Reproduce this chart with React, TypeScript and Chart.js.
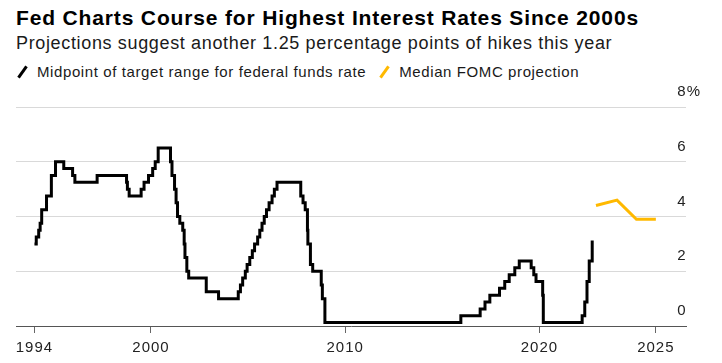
import React, { useEffect, useRef } from "react";
import { Chart, registerables } from "chart.js";

Chart.register(...registerables);

// Midpoint of the federal funds target range, at each change date
const FFR_DATES = [
  "1994-01-01", "1994-02-04", "1994-03-22", "1994-04-18", "1994-05-17", "1994-08-16", "1994-11-15",
  "1995-02-01", "1995-07-06", "1995-12-19", "1996-01-31", "1997-03-25", "1998-09-29", "1998-10-15",
  "1998-11-17", "1999-06-30", "1999-08-24", "1999-11-16", "2000-02-02", "2000-03-21", "2000-05-16",
  "2001-01-03", "2001-01-31", "2001-03-20", "2001-04-18", "2001-05-15", "2001-06-27", "2001-08-21",
  "2001-09-17", "2001-10-02", "2001-11-06", "2001-12-11", "2002-11-06", "2003-06-25", "2004-06-30",
  "2004-08-10", "2004-09-21", "2004-11-10", "2004-12-14", "2005-02-02", "2005-03-22", "2005-05-03",
  "2005-06-30", "2005-08-09", "2005-09-20", "2005-11-01", "2005-12-13", "2006-01-31", "2006-03-28",
  "2006-05-10", "2006-06-29", "2007-09-18", "2007-10-31", "2007-12-11", "2008-01-22", "2008-01-30",
  "2008-03-18", "2008-04-30", "2008-10-08", "2008-10-29", "2008-12-16", "2015-12-16", "2016-12-14",
  "2017-03-15", "2017-06-14", "2017-12-13", "2018-03-21", "2018-06-13", "2018-09-26", "2018-12-19",
  "2019-07-31", "2019-09-18", "2019-10-30", "2020-03-03", "2020-03-15", "2022-03-16", "2022-05-04",
  "2022-06-15", "2022-07-27", "2022-09-21",
];
const FFR_MIDPOINT = [
  3.0, 3.25, 3.5, 3.75, 4.25, 4.75, 5.5,
  6.0, 5.75, 5.5, 5.25, 5.5, 5.25, 5.0,
  4.75, 5.0, 5.25, 5.5, 5.75, 6.0, 6.5,
  6.0, 5.5, 5.0, 4.5, 4.0, 3.75, 3.5,
  3.0, 2.5, 2.0, 1.75, 1.25, 1.0, 1.25,
  1.5, 1.75, 2.0, 2.25, 2.5, 2.75, 3.0,
  3.25, 3.5, 3.75, 4.0, 4.25, 4.5, 4.75,
  5.0, 5.25, 4.75, 4.5, 4.25, 3.5, 3.0,
  2.25, 2.0, 1.5, 1.0, 0.125, 0.375, 0.625,
  0.875, 1.125, 1.375, 1.625, 1.875, 2.125, 2.375,
  2.125, 1.875, 1.625, 1.125, 0.125, 0.375, 0.875,
  1.625, 2.375, 3.125,
];

// Median FOMC projection
const PROJ_DATES = ["2022-12-01", "2023-12-31", "2024-12-31", "2025-12-31"];
const PROJ_VALUES = [4.4, 4.6, 3.9, 3.9];

// Axis ticks
const X_TICK_DATES = ["1994-01-01", "2000-01-01", "2010-01-01", "2020-01-01", "2025-12-31"];
const X_TICK_LABELS = ["1994", "2000", "2010", "2020", "2025"];
const Y_TICKS = [0, 2, 4, 6, 8];
const Y_TICK_LABELS = ["0", "2", "4", "6", "8%"];

const X_MIN = 1993.05;
const X_MAX = 2027.55;

const TITLE = "Fed Charts Course for Highest Interest Rates Since 2000s";
const SUBTITLE = "Projections suggest another 1.25 percentage points of hikes this year";
const LEGEND_FFR = "Midpoint of target range for federal funds rate";
const LEGEND_PROJ = "Median FOMC projection";

const BLACK = "#000000";
const YELLOW = "#FFB900";
const FONT = '"Liberation Sans", Arial, Helvetica, sans-serif';

function toYear(d: string): number {
  const [y, m, dd] = d.split("-").map(Number);
  const start = Date.UTC(y, 0, 1);
  const end = Date.UTC(y + 1, 0, 1);
  return y + (Date.UTC(y, m - 1, dd) - start) / (end - start);
}

const letterSpacingPlugin = {
  id: "letterSpacing",
  beforeLayout(chart: any) {
    (chart.ctx as any).letterSpacing = "1px";
  },
  beforeDraw(chart: any) {
    (chart.ctx as any).letterSpacing = "1px";
  },
};

function Marker({ color }: { color: string }) {
  return (
    <span
      style={{
        display: "inline-block",
        width: 3,
        height: 14,
        background: color,
        transform: "rotate(35deg)",
        flex: "none",
      }}
    />
  );
}

export default function App() {
  const canvasRef = useRef<HTMLCanvasElement | null>(null);

  useEffect(() => {
    const canvas = canvasRef.current;
    if (!canvas) return;
    const ffr = FFR_DATES.map((d, i) => ({ x: toYear(d), y: FFR_MIDPOINT[i] }));
    const proj = PROJ_DATES.map((d, i) => ({ x: toYear(d), y: PROJ_VALUES[i] }));
    const chart = new Chart(canvas, {
      type: "line",
      data: {
        datasets: [
          {
            label: LEGEND_PROJ,
            data: proj,
            borderColor: YELLOW,
            borderWidth: 3,
            pointRadius: 0,
            borderJoinStyle: "miter",
            fill: false,
          },
          {
            label: LEGEND_FFR,
            data: ffr,
            borderColor: BLACK,
            borderWidth: 3,
            pointRadius: 0,
            stepped: "before",
            borderJoinStyle: "miter",
            fill: false,
          },
        ],
      },
      plugins: [letterSpacingPlugin],
      options: {
        animation: false,
        responsive: false,
        maintainAspectRatio: false,
        events: [],
        layout: { padding: { left: 16, top: 27, right: 0, bottom: 0 } },
        plugins: {
          legend: { display: false },
          tooltip: { enabled: false },
          title: { display: false },
        },
        scales: {
          x: {
            type: "linear",
            min: X_MIN,
            max: X_MAX,
            afterBuildTicks: (s: any) => {
              s.ticks = X_TICK_DATES.map((d) => ({ value: toYear(d) }));
            },
            afterFit: (s: any) => {
              s.height = 37;
            },
            ticks: {
              autoSkip: false,
              maxRotation: 0,
              minRotation: 0,
              padding: 6,
              color: "#222",
              font: { family: FONT, size: 15 },
              callback: (_v: any, i: number) => X_TICK_LABELS[i],
            },
            grid: {
              drawOnChartArea: false,
              drawTicks: true,
              tickLength: 7,
              tickColor: "#666",
              tickWidth: 1,
            },
            border: { display: true, color: "#555", width: 1 },
          },
          y: {
            type: "linear",
            position: "right",
            min: 0,
            max: 8,
            afterBuildTicks: (s: any) => {
              s.ticks = Y_TICKS.map((v) => ({ value: v }));
            },
            afterFit: (s: any) => {
              s.width = 36;
            },
            ticks: {
              mirror: true,
              crossAlign: "far",
              padding: 15,
              labelOffset: -15,
              color: "#222",
              font: { family: FONT, size: 15 },
              callback: (_v: any, i: number) => Y_TICK_LABELS[i],
            },
            grid: {
              drawTicks: false,
              lineWidth: 1,
              color: (ctx: any) => (ctx.tick && ctx.tick.value === 0 ? "rgba(0,0,0,0)" : "#d9d9d9"),
            },
            border: { display: false },
          },
        },
      },
    } as any);
    return () => chart.destroy();
  }, []);

  return (
    <div
      style={{
        position: "absolute",
        left: 0,
        top: 0,
        width: 722,
        height: 363,
        background: "#fff",
        fontFamily: FONT,
        overflow: "hidden",
      }}
    >
      <div
        style={{
          position: "absolute",
          left: 16,
          top: 6.5,
          fontSize: 21,
          lineHeight: "21px",
          fontWeight: 700,
          letterSpacing: "0.85px",
          color: "#000",
          whiteSpace: "nowrap",
        }}
      >
        {TITLE}
      </div>
      <div
        style={{
          position: "absolute",
          left: 16,
          top: 34.3,
          fontSize: 18,
          lineHeight: "18px",
          letterSpacing: "0.65px",
          color: "#1a1a1a",
          whiteSpace: "nowrap",
        }}
      >
        {SUBTITLE}
      </div>
      <div
        style={{
          position: "absolute",
          left: 21,
          top: 64,
          height: 15,
          display: "flex",
          alignItems: "center",
          fontSize: 15,
          lineHeight: "15px",
          letterSpacing: "0.6px",
          color: "#1a1a1a",
          whiteSpace: "nowrap",
        }}
      >
        <Marker color={BLACK} />
        <span style={{ marginLeft: 13 }}>{LEGEND_FFR}</span>
        <span style={{ marginLeft: 17 }} />
        <Marker color={YELLOW} />
        <span style={{ marginLeft: 13 }}>{LEGEND_PROJ}</span>
      </div>
      <canvas
        ref={canvasRef}
        width={722}
        height={283}
        style={{ position: "absolute", left: 0, top: 80, width: 722, height: 283, display: "block" }}
      />
    </div>
  );
}
